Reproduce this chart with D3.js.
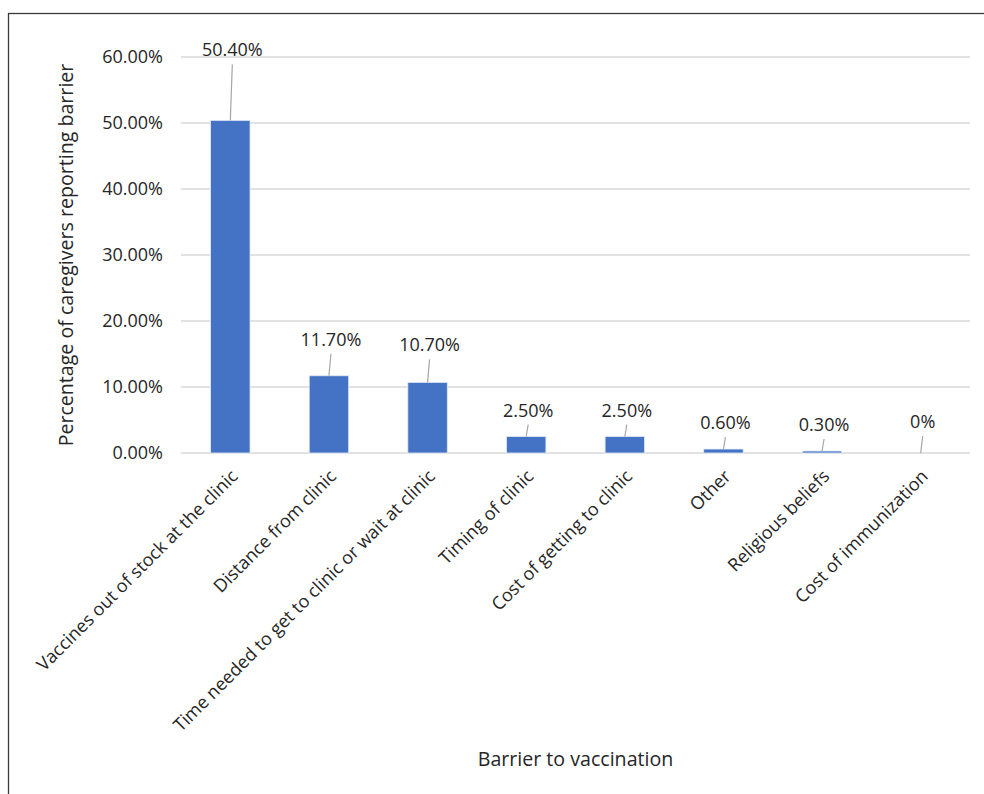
<!DOCTYPE html>
<html lang="en">
<head>
  <meta charset="UTF-8">
  <title>Barriers to vaccination</title>
  <script src="https://d3js.org/d3.v7.min.js"></script>
  <style>
    body {
      margin: 0;
      padding: 0;
      background: #fff;
      font-family: 'Open Sans', sans-serif;
    }
    .grid line { stroke: #d9d9d9; stroke-width: 1.3; }
    .tick-label, .cat-label, .value-label { fill: #262626; font-size: 18px; }
    .axis-title { fill: #262626; font-size: 19.6px; }
    .leader { stroke: #a6a6a6; stroke-width: 1.2; }
  </style>
</head>
<body>
  <script>
    // categories and values (percent of caregivers)
    var barriers = [
      "Vaccines out of stock at the clinic",
      "Distance from clinic",
      "Time needed to get to clinic or wait at clinic",
      "Timing of clinic",
      "Cost of getting to clinic",
      "Other",
      "Religious beliefs",
      "Cost of immunization"
    ];
    var percents = [50.4, 11.7, 10.7, 2.5, 2.5, 0.6, 0.3, 0];
    var valueLabels = ["50.40%", "11.70%", "10.70%", "2.50%", "2.50%", "0.60%", "0.30%", "0%"];
    var yTicks = [0, 10, 20, 30, 40, 50, 60];

    // how far each (manually placed) data label sits above its bar, px
    var labelLift = [64, 30, 31, 20, 20, 20, 20, 25];

    var W = 984, H = 794;
    var plot = { left: 181, right: 970, top: 57, bottom: 453 };

    var svg = d3.select("body").append("svg")
        .attr("width", W)
        .attr("height", H);

    // outer frame (runs off the right and bottom edges)
    svg.append("rect")
        .attr("x", 8.5)
        .attr("y", 13.5)
        .attr("width", W + 20)
        .attr("height", H + 20)
        .attr("fill", "none")
        .attr("stroke", "#3a3a3a")
        .attr("stroke-width", 1.3);

    var x = d3.scaleBand()
        .domain(barriers)
        .range([plot.left, plot.right])
        .paddingInner(0.6)
        .paddingOuter(0.3);

    var y = d3.scaleLinear()
        .domain([0, 60])
        .range([plot.bottom, plot.top]);

    // gridlines
    svg.append("g")
        .attr("class", "grid")
      .selectAll("line")
      .data(yTicks)
      .enter().append("line")
        .attr("x1", plot.left)
        .attr("x2", plot.right)
        .attr("y1", function(d) { return y(d); })
        .attr("y2", function(d) { return y(d); });

    // y tick labels
    svg.append("g")
      .selectAll("text")
      .data(yTicks)
      .enter().append("text")
        .attr("class", "tick-label")
        .attr("x", plot.left - 18)
        .attr("y", function(d) { return y(d); })
        .attr("dy", "0.35em")
        .attr("text-anchor", "end")
        .text(function(d) { return d3.format(".2f")(d) + "%"; });

    // bars
    svg.append("g")
      .selectAll("rect")
      .data(percents)
      .enter().append("rect")
        .attr("x", function(d, i) { return x(barriers[i]); })
        .attr("y", function(d) { return y(d); })
        .attr("width", x.bandwidth())
        .attr("height", function(d) { return y(0) - y(d); })
        .attr("fill", "#4472c4")
        .attr("stroke", "#e3eaf6")
        .attr("stroke-width", 0.8);

    // data labels with leader lines
    var lab = svg.append("g")
      .selectAll("g")
      .data(percents)
      .enter().append("g");

    lab.append("line")
        .attr("class", "leader")
        .attr("x1", function(d, i) { return x(barriers[i]) + x.bandwidth() / 2 + 2; })
        .attr("y1", function(d, i) { return y(d) - labelLift[i] + 8; })
        .attr("x2", function(d, i) { return x(barriers[i]) + x.bandwidth() / 2; })
        .attr("y2", function(d) { return y(d); });

    lab.append("text")
        .attr("class", "value-label")
        .attr("x", function(d, i) { return x(barriers[i]) + x.bandwidth() / 2 + 2; })
        .attr("y", function(d, i) { return y(d) - labelLift[i]; })
        .attr("text-anchor", "middle")
        .text(function(d, i) { return valueLabels[i]; });

    // rotated category labels
    svg.append("g")
      .selectAll("text")
      .data(barriers)
      .enter().append("text")
        .attr("class", "cat-label")
        .attr("text-anchor", "end")
        .attr("transform", function(d) {
          var cx = x(d) + x.bandwidth() / 2 + 4;
          return "translate(" + cx + "," + (plot.bottom + 20) + ") rotate(-45)";
        })
        .attr("dy", "0.35em")
        .text(function(d) { return d; });

    // axis titles
    svg.append("text")
        .attr("class", "axis-title")
        .attr("text-anchor", "middle")
        .attr("transform", "translate(66," + ((plot.top + plot.bottom) / 2) + ") rotate(-90)")
        .attr("dy", "0.35em")
        .text("Percentage of caregivers reporting barrier");

    svg.append("text")
        .attr("class", "axis-title")
        .attr("text-anchor", "middle")
        .attr("x", (plot.left + plot.right) / 2)
        .attr("y", 759)
        .attr("dy", "0.35em")
        .text("Barrier to vaccination");
  </script>
</body>
</html>
